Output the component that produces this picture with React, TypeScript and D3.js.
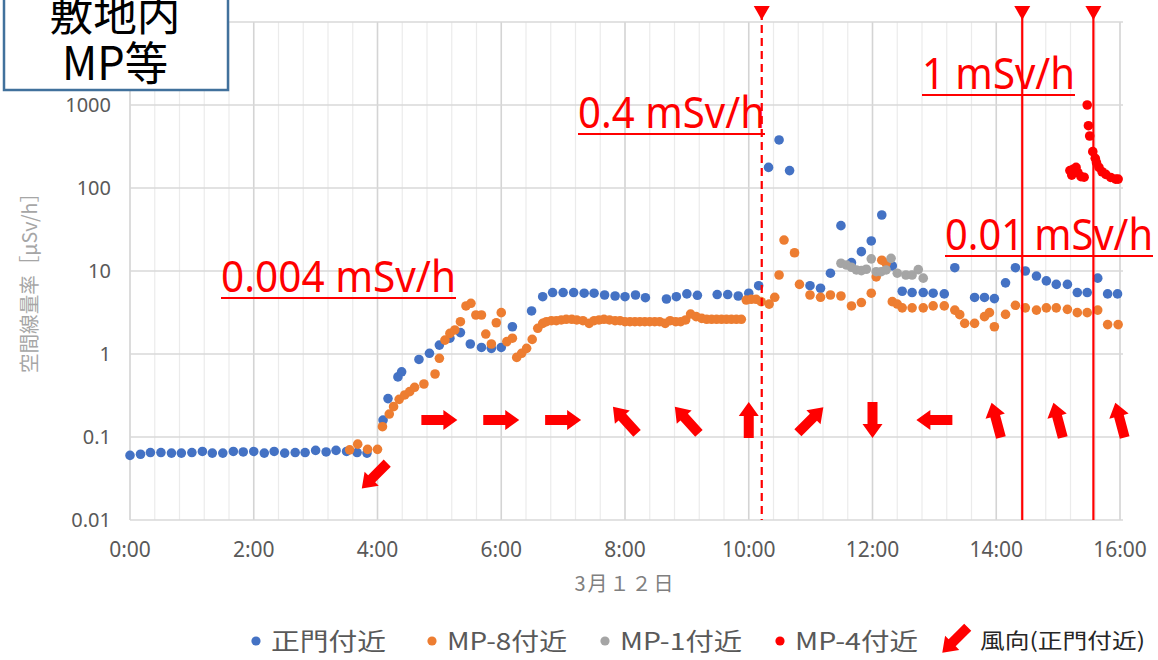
import React from 'react'
import * as d3 from 'd3'

// [hour, µSv/h]
const mainGate: [number, number][] = [
  [0, 0.06], [0.17, 0.062], [0.33, 0.065], [0.5, 0.065], [0.67, 0.064], [0.83, 0.064],
  [1, 0.065], [1.17, 0.067], [1.33, 0.064], [1.5, 0.064], [1.67, 0.067], [1.83, 0.066],
  [2, 0.067], [2.17, 0.064], [2.33, 0.067], [2.5, 0.064], [2.67, 0.065], [2.83, 0.065],
  [3, 0.069], [3.17, 0.066], [3.33, 0.069], [3.5, 0.067], [3.67, 0.065], [3.83, 0.064],
  [4.09, 0.16], [4.17, 0.29], [4.33, 0.53], [4.39, 0.61], [4.67, 0.86], [4.84, 1.02],
  [5, 1.28], [5.17, 1.55], [5.34, 1.81], [5.5, 1.32], [5.68, 1.2], [5.84, 1.17],
  [6, 1.2], [6.18, 2.13], [6.49, 3.3], [6.67, 4.9], [6.83, 5.5], [7, 5.5],
  [7.17, 5.5], [7.34, 5.4], [7.5, 5.4], [7.67, 5.14], [7.84, 5.0], [8, 4.9],
  [8.17, 5.14], [8.33, 4.77], [8.67, 4.6], [8.83, 4.9], [9, 5.3], [9.17, 5.1],
  [9.49, 5.2], [9.66, 5.2], [9.83, 5.0], [10, 5.4], [10.16, 6.65], [10.32, 177],
  [10.49, 379], [10.66, 162], [10.99, 6.65], [11.16, 6.2], [11.32, 9.4], [11.49, 35.2],
  [11.66, 12.6], [11.82, 17.1], [11.98, 23], [12.15, 47.3], [12.32, 11.5], [12.48, 5.7],
  [12.64, 5.5], [12.82, 5.5], [12.98, 5.4], [13.16, 5.3], [13.33, 10.96], [13.65, 4.8],
  [13.81, 4.8], [13.97, 4.65], [14.15, 7.2], [14.31, 10.96], [14.47, 10.0], [14.65, 8.7],
  [14.81, 7.6], [14.97, 6.9], [15.15, 6.9], [15.31, 5.5], [15.47, 5.5], [15.64, 8.2],
  [15.8, 5.3], [15.96, 5.3],
]

const mp8: [number, number][] = [
  [3.55, 0.07], [3.68, 0.082], [3.84, 0.071], [4, 0.071], [4.08, 0.133], [4.19, 0.189],
  [4.26, 0.232], [4.35, 0.284], [4.44, 0.321], [4.52, 0.352], [4.6, 0.397], [4.75, 0.435],
  [4.93, 0.574], [5, 0.888], [5.09, 1.47], [5.17, 1.77], [5.25, 1.95], [5.34, 2.45],
  [5.43, 3.79], [5.51, 4.08], [5.59, 2.95], [5.68, 2.95], [5.75, 1.74], [5.84, 1.32],
  [5.92, 2.38], [6, 3.15], [6.09, 1.41], [6.18, 1.55], [6.25, 0.91], [6.33, 1.02],
  [6.41, 1.17], [6.5, 1.5], [6.59, 2.04], [6.67, 2.34], [6.73, 2.45], [6.81, 2.52],
  [6.89, 2.52], [6.97, 2.57], [7.05, 2.62], [7.14, 2.62], [7.22, 2.57], [7.32, 2.52],
  [7.42, 2.34], [7.5, 2.52], [7.58, 2.57], [7.66, 2.62], [7.75, 2.57], [7.84, 2.52],
  [7.92, 2.52], [8, 2.45], [8.08, 2.45], [8.16, 2.45], [8.24, 2.45], [8.32, 2.45],
  [8.4, 2.45], [8.48, 2.45], [8.56, 2.45], [8.65, 2.34], [8.73, 2.52], [8.82, 2.45],
  [8.9, 2.45], [8.98, 2.57], [9.06, 3.03], [9.15, 2.82], [9.24, 2.69], [9.32, 2.62],
  [9.4, 2.62], [9.48, 2.62], [9.56, 2.62], [9.64, 2.62], [9.72, 2.62], [9.8, 2.62],
  [9.88, 2.62], [9.96, 4.47], [10.04, 4.56], [10.12, 4.56], [10.2, 4.27], [10.33, 3.99],
  [10.42, 4.82], [10.49, 8.95], [10.57, 23.6], [10.74, 16.6], [10.82, 6.9], [10.99, 5.14],
  [11.16, 4.82], [11.32, 5.14], [11.49, 5.0], [11.66, 3.79], [11.82, 4.17], [11.98, 5.4],
  [12.06, 8.5], [12.15, 13.5], [12.22, 12.4], [12.32, 4.27], [12.4, 4.0], [12.48, 3.6],
  [12.64, 3.6], [12.82, 3.6], [12.98, 3.8], [13.16, 3.8], [13.33, 3.38], [13.41, 2.98],
  [13.49, 2.34], [13.65, 2.34], [13.81, 2.82], [13.89, 3.15], [13.97, 2.13], [14.15, 3.0],
  [14.31, 3.86], [14.47, 3.6], [14.65, 3.38], [14.81, 3.6], [14.97, 3.6], [15.15, 3.45],
  [15.31, 3.15], [15.47, 3.15], [15.64, 3.38], [15.8, 2.26], [15.97, 2.26],
]

const mp1: [number, number][] = [
  [11.49, 12.4], [11.58, 11.8], [11.66, 11.1], [11.74, 10.3], [11.82, 10.1], [11.9, 10.5],
  [11.98, 14.0], [12.06, 9.8], [12.14, 9.8], [12.22, 10.3], [12.3, 14.2], [12.4, 9.4],
  [12.54, 8.95], [12.64, 8.95], [12.74, 10.4], [12.82, 8.2],
]

const mp4: [number, number][] = [
  [15.19, 162], [15.22, 143], [15.24, 168], [15.29, 177], [15.32, 153], [15.37, 137],
  [15.42, 135], [15.47, 1000], [15.49, 563], [15.51, 423], [15.56, 274], [15.6, 228],
  [15.62, 202], [15.66, 177], [15.71, 157], [15.77, 146], [15.85, 134], [15.93, 128],
  [15.97, 128],
]

const windHours = [4, 5, 6, 7, 8, 9, 10, 11, 12, 13, 14, 15, 16]
// direction the arrow points, degrees clockwise from up
const windDirections = [225, 90, 90, 90, 318, 318, 0, 45, 180, 270, 345, 345, 345]

const eventHours = [10.21, 14.42, 15.57]
const annotations = ['0.004 mSv/h', '0.4 mSv/h', '1 mSv/h', '0.01 mSv/h']

const xTicks = [0, 2, 4, 6, 8, 10, 12, 14, 16]
const yTicks = [0.01, 0.1, 1, 10, 100, 1000, 10000]
const yLabelTicks = [0.01, 0.1, 1, 10, 100, 1000]
const seriesNames = ['正門付近', 'MP-8付近', 'MP-1付近', 'MP-4付近']
const seriesColors = ['#4472C4', '#ED7D31', '#A5A5A5', '#FF0000']
const windLabel = '風向(正門付近)'
const xTitle = '3月１２日'
const yTitle = '空間線量率［μSv/h］'

const W = 1158
const H = 660
const JP = '"Noto Sans CJK JP", "Noto Sans", sans-serif'
const LAT = '"Noto Sans", "Open Sans", sans-serif'

const arrowPath = 'M0,-18 L10,-4 L5,-4 L5,18 L-5,18 L-5,-4 L-10,-4 Z'
const fmtHour = (h: number) => `${h}:00`

const App = () => {
  const x = d3.scaleLinear().domain([0, 16]).range([130, 1120])
  const y = d3.scaleLog().domain([0.01, 10000]).range([520, 22])

  const minorHours = d3.range(0, 16.001, 0.4)
  const allSeries = [mainGate, mp8, mp1, mp4]

  // pixel layout for the big red notes: [left, baseline, width]
  const notePos = [
    [221, 292, 235],
    [578, 128, 187],
    [922, 89, 153],
    [945, 250, 208],
  ]
  const legendPos = [
    [256, 115],
    [432, 120],
    [605, 122],
    [780, 123],
  ]

  return (
    <svg width={W} height={H} style={{ position: 'absolute', left: 0, top: 0, background: '#fff' }}>
      <rect width={W} height={H} fill="#fff" />

      {/* grid */}
      {minorHours.map((h, i) => (
        <line
          key={'v' + i}
          x1={x(h)}
          x2={x(h)}
          y1={y(10000)}
          y2={y(0.01)}
          stroke={i % 5 === 0 ? '#d4d4d4' : '#ebebeb'}
          strokeWidth={i % 5 === 0 ? 1.6 : 1.2}
        />
      ))}
      {yTicks.map(t => (
        <line key={'h' + t} x1={x(0)} x2={x(16) + 3} y1={y(t)} y2={y(t)} stroke="#d9d9d9" strokeWidth={1.6} />
      ))}

      {/* y tick labels */}
      {yLabelTicks.map(t => (
        <text key={'yl' + t} x={111} y={y(t)} dy="0.35em" textAnchor="end" fontFamily={LAT} fontSize={20} fill="#595959">
          {String(t)}
        </text>
      ))}
      {/* x tick labels */}
      {xTicks.map(t => (
        <text key={'xl' + t} x={x(t)} y={557} textAnchor="middle" fontFamily={LAT} fontSize={21} fill="#595959">
          {fmtHour(t)}
        </text>
      ))}
      <text x={x(8)} y={591} textAnchor="middle" fontFamily={JP} fontSize={20} fill="#7f7f7f" letterSpacing={2}>
        {xTitle}
      </text>
      <text
        transform={`translate(37, 278) rotate(-90)`}
        textAnchor="middle"
        fontFamily={JP}
        fontSize={20}
        fill="#a6a6a6"
        textLength={190}
        lengthAdjust="spacingAndGlyphs"
      >
        {yTitle}
      </text>

      {/* wind arrows */}
      {windHours.map((h, i) => (
        <path
          key={'w' + h}
          d={arrowPath}
          fill="#FF0000"
          transform={`translate(${x(h) - (i === 0 ? 3 : 0)}, ${i === 0 ? y(0.034) : y(0.16)}) rotate(${windDirections[i]})`}
        />
      ))}

      {/* data */}
      {allSeries.map((s, si) =>
        s.map((d, i) => (
          <circle key={si + '-' + i} cx={x(d[0])} cy={y(d[1])} r={4.8} fill={seriesColors[si]} />
        ))
      )}

      {/* event lines */}
      {eventHours.map((h, i) => (
        <g key={'e' + i}>
          <line
            x1={x(h)}
            x2={x(h)}
            y1={12}
            y2={y(0.01)}
            stroke="#FF0000"
            strokeWidth={2.2}
            strokeDasharray={i === 0 ? '8,5' : undefined}
          />
          <path d={`M${x(h) - 8},6 L${x(h) + 8},6 L${x(h)},20 Z`} fill="#FF0000" />
        </g>
      ))}

      {/* notes */}
      {annotations.map((a, i) => {
        const [lx, by, w] = notePos[i]
        return (
          <g key={'n' + i}>
            <text
              x={lx}
              y={by}
              fontFamily={LAT}
              fontSize={43}
              fill="#FF0000"
              textLength={w}
              lengthAdjust="spacingAndGlyphs"
            >
              {a}
            </text>
            <line x1={lx} x2={lx + w} y1={by + 6} y2={by + 6} stroke="#FF0000" strokeWidth={2.2} />
          </g>
        )
      })}

      {/* legend */}
      {seriesNames.map((n, i) => (
        <g key={'lg' + i}>
          <circle cx={legendPos[i][0]} cy={641} r={4.6} fill={seriesColors[i]} />
          <text
            x={legendPos[i][0] + 15}
            y={641}
            dy="0.36em"
            fontFamily={JP}
            fontSize={24}
            fill="#595959"
            textLength={legendPos[i][1]}
            lengthAdjust="spacingAndGlyphs"
          >
            {n}
          </text>
        </g>
      ))}
      <path d={arrowPath} fill="#FF0000" transform="translate(955, 640) rotate(225)" />
      <text
        x={980}
        y={640}
        dy="0.36em"
        fontFamily={JP}
        fontSize={21}
        fill="#262626"
        textLength={165}
        lengthAdjust="spacingAndGlyphs"
      >
        {windLabel}
      </text>

      {/* label box */}
      <rect x={4} y={-10} width={224} height={100} fill="#fff" stroke="#41719C" strokeWidth={2.5} />
      <text x={115} y={31} textAnchor="middle" fontFamily={JP} fontSize={44} fill="#000" textLength={131} lengthAdjust="spacingAndGlyphs">
        敷地内
      </text>
      <text x={115} y={80} textAnchor="middle" fontFamily={JP} fontSize={46} fill="#000" textLength={106} lengthAdjust="spacingAndGlyphs">
        MP等
      </text>
    </svg>
  )
}

export default App
